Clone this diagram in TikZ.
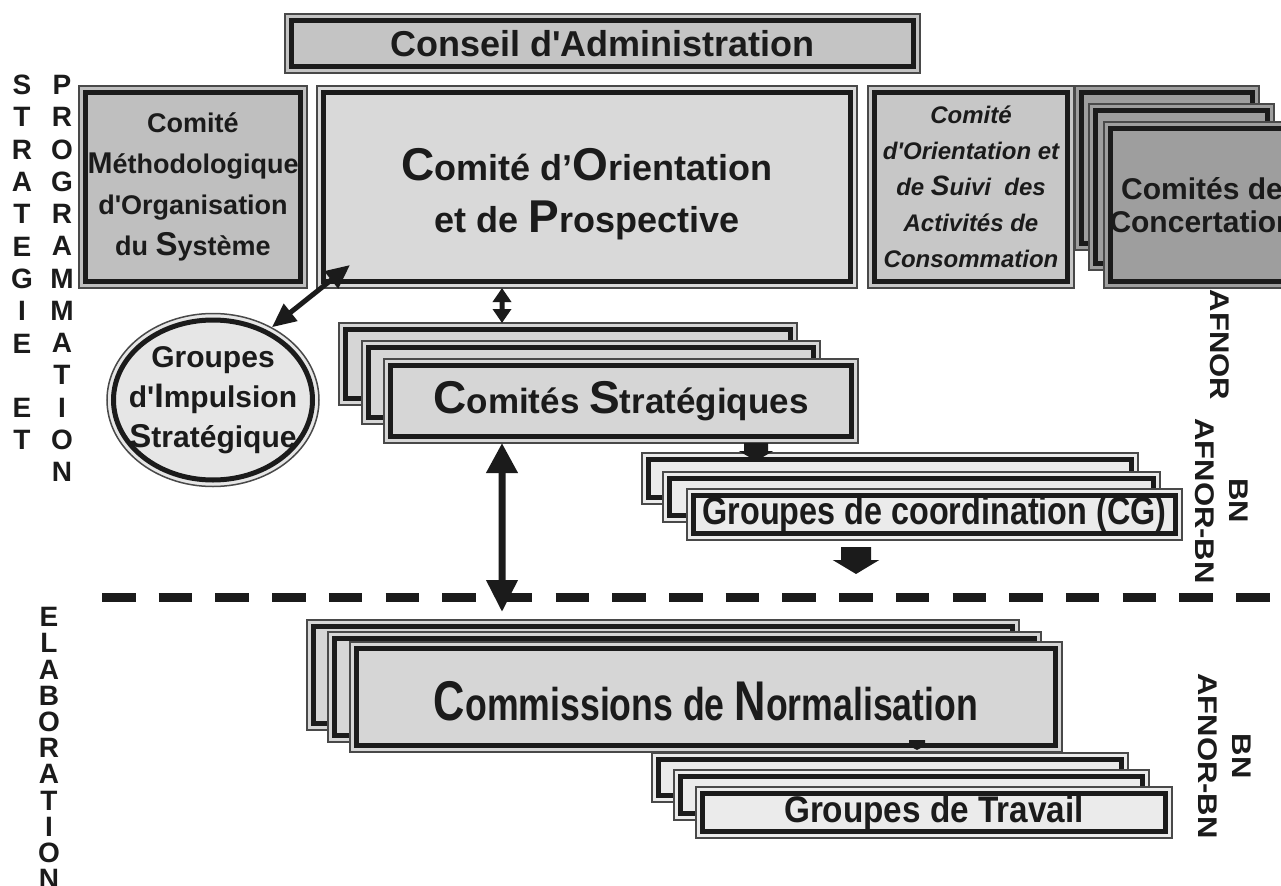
\documentclass[tikz,border=0pt]{standalone}
\usepackage{fontspec}
\usepackage{graphicx}
\newfontfamily\lsans{Liberation Sans}
\usetikzlibrary{arrows.meta,shapes.geometric}
\definecolor{ink}{HTML}{1B1B1B}
\definecolor{cConseil}{HTML}{C4C4C4}
\definecolor{cMetho}{HTML}{BFBFBF}
\definecolor{cOrient}{HTML}{D9D9D9}
\definecolor{cSuivi}{HTML}{C7C7C7}
\definecolor{cConc}{HTML}{9E9E9E}
\definecolor{cStrat}{HTML}{D6D6D6}
\definecolor{cLight}{HTML}{EBEBEB}
\definecolor{cCircle}{HTML}{E6E6E6}
\newcommand\F[2]{\fontsize{#1bp}{#2bp}\selectfont}
\newcommand\Bg[2]{{\fontsize{#1bp}{#1bp}\selectfont #2}}
\newcommand\dbox[6]{%
  \pgfmathsetmacro\dbcx{(#2+#4)/2}%
  \pgfmathsetmacro\dbcy{(#3+#5)/2}%
  \pgfmathsetmacro\dbw{#4-#2}%
  \pgfmathsetmacro\dbh{#5-#3}%
  \node[boxo, fill=#6, minimum width=\dbw bp, minimum height=\dbh bp] (#1) at (\dbcx,\dbcy) {};
  \draw[boxi] ([shift={(6.5bp,-6.5bp)}]#1.north west) rectangle ([shift={(-6.5bp,6.5bp)}]#1.south east);
}
\tikzset{
  boxo/.style={rectangle, draw=ink!80, line width=1.5bp, inner sep=0, outer sep=0},
  boxi/.style={draw=ink, line width=5bp},
  txt/.style={text=ink, align=center, inner sep=0},
  vl/.style={text=ink, inner sep=0, font=\lsans\bfseries\F{28}{28}},
  rl/.style={text=ink, inner sep=0, align=center, rotate=-90, font=\lsans\bfseries\F{27}{34}},
}
\begin{document}
\begin{tikzpicture}[x=1bp, y=-1bp]
\clip (0,0) rectangle (1281,886);
\fill[white] (0,0) rectangle (1281,886);

% top boxes
\dbox{conseil}{285}{14}{920}{73}{cConseil}
\dbox{metho}{79}{86}{307}{288}{cMetho}
\dbox{orient}{317}{86}{857}{288}{cOrient}
\dbox{suivi}{868}{86}{1074}{288}{cSuivi}
\dbox{cc1}{1075}{86}{1259}{250}{cConc}
\dbox{cc2}{1089}{104}{1274}{270}{cConc}
\dbox{cc3}{1104}{122}{1300}{288}{cConc}

% circle
\node[ellipse, draw=ink!80, line width=1.5bp, fill=cCircle, minimum width=212bp, minimum height=173bp, inner sep=0] (gis) at (213,400) {};
\draw[boxi] (gis.center) ellipse [x radius=99.5bp, y radius=80bp];

% stacks
\dbox{s1}{339}{323}{797}{405}{cStrat}
\dbox{s2}{362}{341}{820}{424}{cStrat}
\dbox{s3}{384}{359}{858}{443}{cStrat}
\dbox{cg1}{642}{453}{1138}{504}{cLight}
\dbox{cg2}{663}{472}{1160}{522}{cLight}
\dbox{cg3}{687}{489}{1182}{540}{cLight}
\dbox{cn1}{307}{620}{1019}{730}{cStrat}
\dbox{cn2}{328}{632}{1041}{742}{cStrat}
\dbox{cn3}{350}{642}{1062}{752}{cStrat}
\dbox{gt1}{652}{753}{1128}{802}{cLight}
\dbox{gt2}{674}{770}{1149}{820}{cLight}
\dbox{gt3}{696}{787}{1172}{838}{cLight}

% texts
\node[txt, font=\lsans\bfseries\F{36}{40}] (tconseil) at (conseil.center) {Conseil d'Administration};
\node[txt, font=\lsans\bfseries\F{27}{41}] (tmetho) at (metho.center) {Comité\\\Bg{30}{M}éthodologique\\d'Organisation\\du \Bg{33}{S}ystème};
\node[txt, font=\lsans\bfseries\F{36}{52}] (torient) at ([yshift=-7bp]orient.center) {\Bg{46}{C}omité d’\Bg{46}{O}rientation\\et de \Bg{46}{P}rospective};
\node[txt, font=\lsans\bfseries\itshape\F{24}{36}] (tsuivi) at (suivi.center) {Comité\\d'Orientation et\\de \Bg{28}{S}uivi\ \ des\\Activités de\\Consommation};
\node[txt, font=\lsans\bfseries\F{30}{33}] (tconc) at (cc3.center) {Comités de\\Concertation};
\node[txt, font=\lsans\bfseries\F{30}{40}] (tgis) at (gis.center) {Groupes\\d'\Bg{34}{I}mpulsion\\\Bg{33}{S}tratégique};
\node[txt, font=\lsans\bfseries\F{35}{40}] (tstrat) at (s3.center) {\Bg{46}{C}omités \Bg{46}{S}tratégiques};
\node[txt, font=\lsans\bfseries\F{39}{42}] (tcg) at (cg3.center) {\scalebox{0.83}[1]{Groupes de coordination (CG)}};
\node[txt, font=\lsans\bfseries\F{46}{50}] (tcn) at ([yshift=-4bp]cn3.center) {\scalebox{0.775}[1]{\Bg{56}{C}ommissions de \Bg{56}{N}ormalisation}};
\node[txt, font=\lsans\bfseries\F{37}{40}] (tgt) at (gt3.center) {\scalebox{0.9}[1]{Groupes de Travail}};

% vertical letters
\foreach \ch [count=\i] in {S,T,R,A,T,E,G,I,E}
  \node[vl] (sa\i) at (22,{85+32.3*(\i-1)}) {\ch};
\node[vl] (sb1) at (22,408) {E};
\node[vl] (sb2) at (22,440) {T};
\foreach \ch [count=\i] in {P,R,O,G,R,A,M,M,A,T,I,O,N}
  \node[vl] (pa\i) at (62,{85+32.25*(\i-1)}) {\ch};
\foreach \ch [count=\i] in {E,L,A,B,O,R,A,T,I,O,N}
  \node[vl] (ea\i) at (49,{617+26.2*(\i-1)}) {\ch};

% rotated labels
\node[rl] (afnor) at (1220,345) {\scalebox{1.15}[1]{AFNOR}};
\node[rl] (bn1) at (1222,501) {\scalebox{1.15}[1]{BN}\\\scalebox{1.15}[1]{AFNOR-BN}};
\node[rl] (bn2) at (1225,756) {\scalebox{1.15}[1]{BN}\\\scalebox{1.15}[1]{AFNOR-BN}};

% dashed separator
\coordinate (dl) at (102,597);
\coordinate (dr) at (1300,597);
\draw[ink, line width=9bp, dash pattern=on 33.5bp off 23.2bp] (dl) -- (dr);

% arrows
\draw[ink, line width=5bp, {Triangle[length=24bp,width=21bp]}-{Triangle[length=24bp,width=21bp]}] (gis.51) -- ([shift={(33bp,23bp)}]orient.south west);
\draw[ink, line width=5bp, {Triangle[length=14bp,width=18bp]}-{Triangle[length=14bp,width=18bp]}] ([xshift=-85bp]orient.south) -- ([xshift=-66bp]s1.north);
\coordinate (dn) at (502,612);
\draw[ink, line width=7bp, {Triangle[length=30bp,width=30bp]}-{Triangle[length=32bp,width=30bp]}] ([xshift=-119bp]s3.south) -- (dn);
\draw[ink, line width=24bp, -{Triangle[length=10bp,width=34bp]}] ([xshift=135bp]s3.south) -- ([xshift=-134bp,yshift=-8bp]cg1.north);
\coordinate (cgd) at (856,574);
\draw[ink, line width=30bp, -{Triangle[length=14bp,width=46bp]}] ([xshift=-78.5bp,yshift=-7bp]cg3.south) -- (cgd);
\draw[ink, line width=16bp, -{Triangle[length=6bp,width=22bp]}] ([xshift=211bp,yshift=12bp]cn3.south) -- ([xshift=27bp,yshift=3bp]gt1.north);
\end{tikzpicture}
\end{document}
